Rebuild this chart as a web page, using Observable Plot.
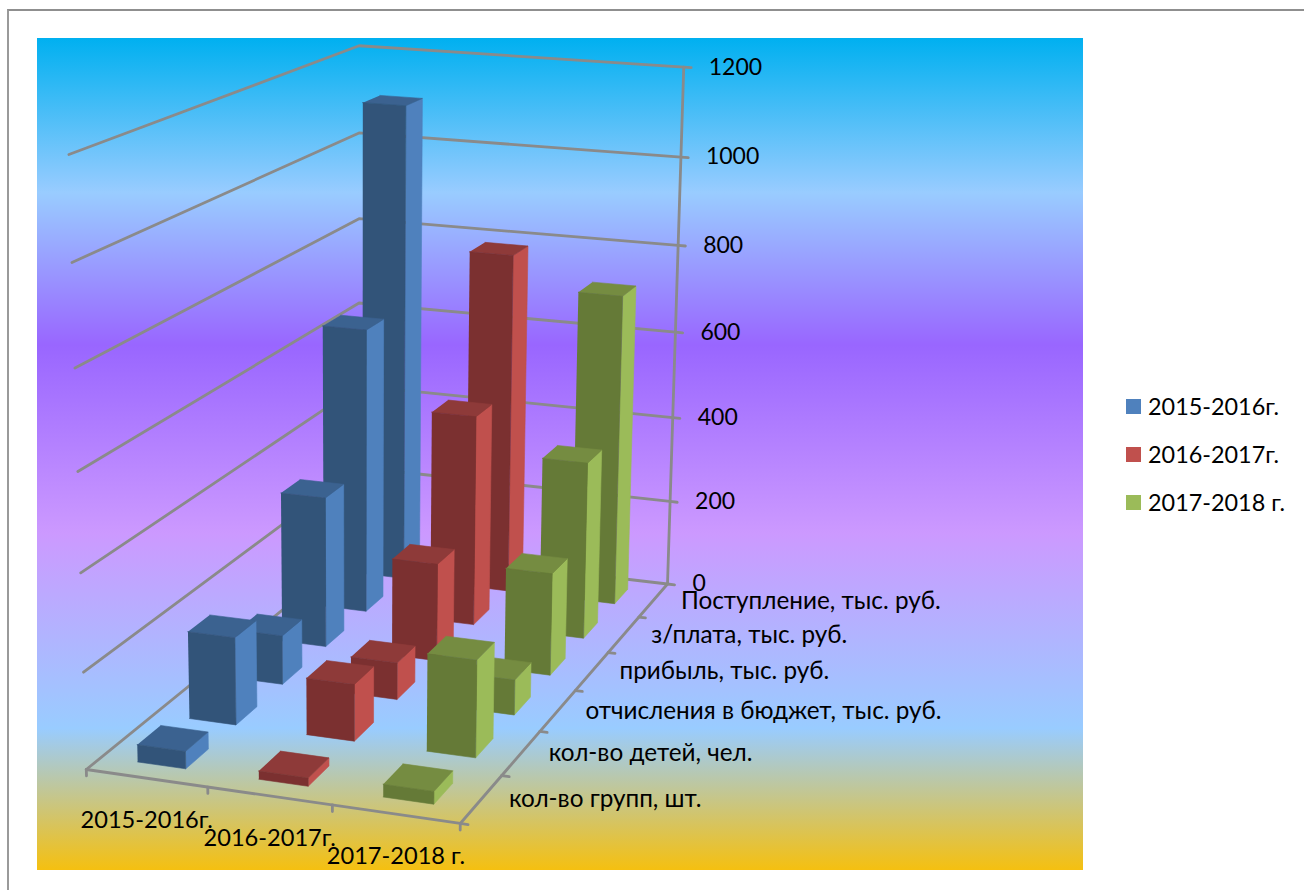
<!DOCTYPE html>
<html><head><meta charset="utf-8">
<script src="https://cdn.jsdelivr.net/npm/d3@7"></script>
<script src="https://cdn.jsdelivr.net/npm/@observablehq/plot@0.6"></script>
<style>
html,body{margin:0;padding:0;background:#fff;overflow:hidden}
#page{position:relative;width:1304px;height:890px;overflow:hidden;font-family:Lato,sans-serif}
#frame{position:absolute;left:7px;top:9px;right:-10px;bottom:-10px;border-top:2px solid #8f8f8f;border-left:2px solid #9a9a9a}
#legend{position:absolute;left:1126px;top:382px;font-size:23.4px;color:#000}
.row{position:absolute;left:0;white-space:nowrap;height:48px;display:flex;align-items:center}
.sw{width:15px;height:15px;margin-right:7px;display:inline-block}
</style></head>
<body><div id="page"><div id="frame"></div><div id="chart"></div><div id="legend"></div></div>
<script>
const seriesNames = ["2015-2016г.", "2016-2017г.", "2017-2018 г."];
const depthNames = ["кол-во групп, шт.", "кол-во детей, чел.", "отчисления в бюджет, тыс. руб.", "прибыль, тыс. руб.", "з/плата, тыс. руб.", "Поступление, тыс. руб."];
const values2015 = [36, 186, 107, 336, 648, 1102];
const values2016 = [17, 120, 80, 217, 478, 785];
const values2017 = [26, 204, 76, 226, 400, 715];
const valueTicks = [0, 200, 400, 600, 800, 1000, 1200];
const seriesValues = [values2015, values2016, values2017];
const sideColors = ["#4f81bd", "#c0504d", "#9bbb59"];
const frontColors = ["#325479", "#7b3030", "#657a37"];
const topColors = ["#3b6290", "#8e3a39", "#758c41"];
const maxValue = 1200;
const barFraction = 0.4;
const depthFraction = 0.44;

// perspective camera: (u across series, v into depth, h up), all 0..1
const camX = [85.8, 356.5, 358.1, -21.5];
const camY = [769, 22.7, -91.5, -624.2];
const camW = [1, -0.038, 0.238, -0.06];
const dot = (m, u, v, h) => m[0] + m[1]*u + m[2]*v + m[3]*h;
const px = (u, v, h) => dot(camX, u, v, h) / dot(camW, u, v, h);
const py = (u, v, h) => dot(camY, u, v, h) / dot(camW, u, v, h);
const pt = (u, v, h, id, color) => ({x: px(u, v, h), y: py(u, v, h), id, color});

// faces of the bars, back rows first
const faces = [];
for (let d = depthNames.length - 1; d >= 0; d--) {
  for (let s = 0; s < seriesNames.length; s++) {
    const nu = seriesNames.length, nv = depthNames.length;
    const u0 = (s + 0.5 - barFraction/2) / nu, u1 = (s + 0.5 + barFraction/2) / nu;
    const v0 = (d + 0.5 - depthFraction/2) / nv, v1 = (d + 0.5 + depthFraction/2) / nv;
    const h = seriesValues[s][d] / maxValue;
    const add = (name, color, corners) => corners.forEach(c => faces.push(pt(c[0], c[1], c[2], `${d}-${s}-${name}`, color)));
    add("side", sideColors[s], [[u1,v0,0],[u1,v1,0],[u1,v1,h],[u1,v0,h]]);
    add("top", topColors[s], [[u0,v0,h],[u1,v0,h],[u1,v1,h],[u0,v1,h]]);
    add("front", frontColors[s], [[u0,v0,0],[u1,v0,0],[u1,v0,h],[u0,v0,h]]);
  }
}

// walls, floor edge, gridlines and ticks
const grid = [];
const seg = (id, pts) => pts.forEach(p => grid.push(pt(p[0], p[1], p[2], id)));
valueTicks.forEach(t => {
  const h = t / maxValue;
  seg("g" + t, [[0,0,h],[0,1,h],[1,1,h],[1.022,1,h]]);
});
seg("edge-v", [[1,1,0],[1,1,1]]);
seg("edge-front", [[0,0,0],[1,0,0],[1,1,0]]);
seriesNames.concat([""]).forEach((_, i) => seg("tf" + i, [[i/3,0,0],[i/3,0,-0.011]]));
depthNames.forEach((_, i) => seg("td" + i, [[1,i/6,0],[1.02,i/6,0]]));

const valueLabels = valueTicks.map(t => ({
  x: px(1,1,t/maxValue) + 25, y: py(1,1,t/maxValue), text: String(t)
}));
const depthLabels = depthNames.map((name, i) => ({
  x: px(1,(i+0.5)/6,0) + 27.5, y: py(1,(i+0.5)/6,0) + 0.5, text: name
}));
const catLabels = seriesNames.map((name, i) => ({
  x: px((i+0.5)/3,0,0), y: py((i+0.5)/3,0,0) + 42, text: name
}));

const plot = Plot.plot({
  width: 1304, height: 890,
  marginTop: 0, marginRight: 0, marginBottom: 0, marginLeft: 0,
  x: {domain: [0, 1304], range: [0, 1304], axis: null},
  y: {domain: [0, 890], range: [0, 890], axis: null},
  color: {type: "identity"},
  style: {
    position: "absolute", left: "0", top: "0", fontFamily: "Lato, sans-serif",
    backgroundColor: "transparent", overflow: "visible",
    backgroundImage: "linear-gradient(180deg,#00b0f0 0%,#99ccff 18.6%,#9966ff 36.9%,#cc99ff 59.5%,#99ccff 83%,#f5c010 100%)",
    backgroundRepeat: "no-repeat", backgroundSize: "1046px 832px", backgroundPosition: "37px 38px"
  },
  marks: [
    Plot.line(grid, {x: "x", y: "y", z: "id", stroke: "#8a8a8a", strokeWidth: 2.8, curve: "linear"}),
    Plot.line(faces, {x: "x", y: "y", z: "id", fill: "color", stroke: "color", strokeWidth: 0.6, curve: "linear"}),
    Plot.text(valueLabels, {x: "x", y: "y", text: "text", textAnchor: "start", fontSize: 23, fill: "#000"}),
    Plot.text(depthLabels, {x: "x", y: "y", text: "text", textAnchor: "start", fontSize: 24.3, fill: "#000"}),
    Plot.text(catLabels, {x: "x", y: "y", text: "text", textAnchor: "middle", fontSize: 23.6, fill: "#000"})
  ]
});
document.getElementById("chart").appendChild(plot);

const legend = document.getElementById("legend");
seriesNames.forEach((name, i) => {
  const row = document.createElement("div");
  row.className = "row";
  row.style.top = (i * 48) + "px";
  const sw = document.createElement("span");
  sw.className = "sw"; sw.style.background = sideColors[i];
  row.appendChild(sw);
  row.appendChild(document.createTextNode(name));
  legend.appendChild(row);
});
</script></body></html>
